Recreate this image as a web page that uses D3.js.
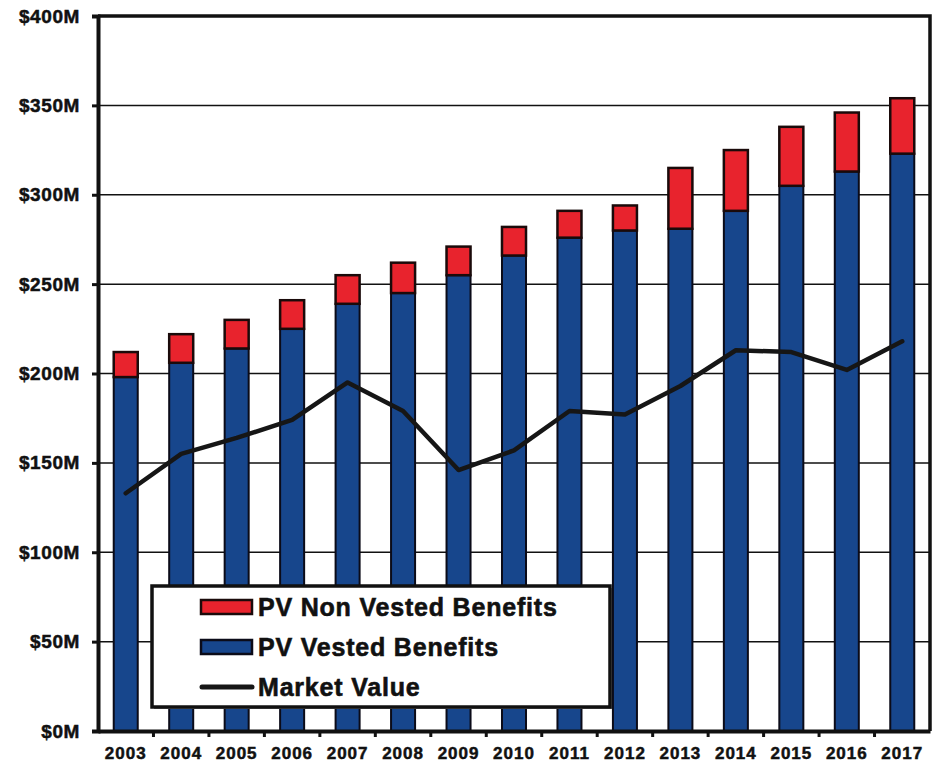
<!DOCTYPE html>
<html lang="en">
<head>
    <meta charset="UTF-8">
    <title>Pension Benefits vs Market Value</title>
    <script src="https://cdn.jsdelivr.net/npm/d3@7"></script>
    <style>
        body {
            margin: 0;
            background: #fff;
            font-family: Arial, 'Liberation Sans', sans-serif;
        }
        .tick-label {
            font-weight: bold;
            fill: #111;
            stroke: #111;
            stroke-width: 0.5px;
        }
        .legend-label {
            font-weight: bold;
            font-size: 25px;
            letter-spacing: 0.8px;
            fill: #111;
            stroke: #111;
            stroke-width: 0.6px;
        }
    </style>
</head>
<body>
    <div id="chart"></div>
    <script>
        // values in $M
        const years = ['2003', '2004', '2005', '2006', '2007', '2008', '2009', '2010',
                       '2011', '2012', '2013', '2014', '2015', '2016', '2017'];
        const vested = [198, 206, 214, 225, 239, 245, 255, 266, 276, 280, 281, 291, 305, 313, 323];
        const nonVested = [14, 16, 16, 16, 16, 17, 16, 16, 15, 14, 34, 34, 33, 33, 31];
        const marketValue = [133, 155, 164, 174, 195, 179, 146, 157, 179, 177, 193, 213, 212, 202, 218];
        const yTicks = [0, 50, 100, 150, 200, 250, 300, 350, 400];
        const legendItems = ['PV Non Vested Benefits', 'PV Vested Benefits', 'Market Value'];

        const width = 932, height = 763;
        const plotLeft = 98, plotRight = 930, plotTop = 16, plotBottom = 731;

        const blue = '#17468c';
        const red = '#e8232d';

        const svg = d3.select('#chart').append('svg')
            .attr('width', width)
            .attr('height', height);

        const x = d3.scaleBand()
            .domain(years)
            .range([plotLeft, plotRight])
            .paddingInner(0.567)
            .paddingOuter(0.2835);

        const y = d3.scaleLinear()
            .domain([0, 400])
            .range([plotBottom, plotTop]);

        // gridlines
        svg.append('g')
            .selectAll('line')
            .data(yTicks.filter(d => d > 0 && d < 400))
            .join('line')
            .attr('x1', plotLeft)
            .attr('x2', plotRight)
            .attr('y1', d => y(d))
            .attr('y2', d => y(d))
            .attr('stroke', '#111')
            .attr('stroke-width', 1.5);

        // stacked bars
        const bars = svg.append('g');
        bars.selectAll('.vested')
            .data(years)
            .join('rect')
            .attr('class', 'vested')
            .attr('x', d => x(d))
            .attr('width', x.bandwidth())
            .attr('y', (d, i) => y(vested[i]))
            .attr('height', (d, i) => y(0) - y(vested[i]))
            .attr('fill', blue)
            .attr('stroke', '#0b0b18')
            .attr('stroke-width', 2);

        bars.selectAll('.nonvested')
            .data(years)
            .join('rect')
            .attr('class', 'nonvested')
            .attr('x', d => x(d))
            .attr('width', x.bandwidth())
            .attr('y', (d, i) => y(vested[i] + nonVested[i]))
            .attr('height', (d, i) => y(vested[i]) - y(vested[i] + nonVested[i]))
            .attr('fill', red)
            .attr('stroke', '#1a0a0a')
            .attr('stroke-width', 2.5);

        // market value line
        const line = d3.line()
            .x((d, i) => x(years[i]) + x.bandwidth() / 2)
            .y(d => y(d));

        svg.append('path')
            .datum(marketValue)
            .attr('d', line)
            .attr('fill', 'none')
            .attr('stroke', '#161616')
            .attr('stroke-width', 4.5)
            .attr('stroke-linejoin', 'round')
            .attr('stroke-linecap', 'round');

        // frame: top and right borders
        svg.append('path')
            .attr('d', `M${plotLeft},${plotTop}H${plotRight}V${plotBottom}`)
            .attr('fill', 'none')
            .attr('stroke', '#111')
            .attr('stroke-width', 3.5);

        // y axis
        const yAxis = svg.append('g')
            .attr('transform', `translate(${plotLeft},0)`)
            .call(d3.axisLeft(y).tickValues(yTicks).tickSize(6).tickPadding(12)
                .tickFormat(d => '$' + d + 'M'));
        yAxis.select('.domain').attr('stroke', '#111').attr('stroke-width', 4);
        yAxis.selectAll('.tick line').attr('stroke', '#111').attr('stroke-width', 3);
        yAxis.selectAll('.tick text')
            .attr('class', 'tick-label')
            .attr('font-size', 19)
            .attr('letter-spacing', 0.6)
            .attr('font-family', "Arial, 'Liberation Sans', sans-serif");

        // x axis, ticks at band edges
        const xAxis = svg.append('g')
            .attr('transform', `translate(0,${plotBottom})`)
            .call(d3.axisBottom(x).tickSize(0).tickPadding(16));
        xAxis.select('.domain').attr('stroke', '#111').attr('stroke-width', 4);
        xAxis.selectAll('.tick text')
            .attr('class', 'tick-label')
            .attr('font-size', 17)
            .attr('letter-spacing', 1)
            .attr('font-family', "Arial, 'Liberation Sans', sans-serif");

        svg.append('g')
            .selectAll('line')
            .data(years.slice(1))
            .join('line')
            .attr('x1', d => x(d) - x.step() * x.paddingInner() / 2)
            .attr('x2', d => x(d) - x.step() * x.paddingInner() / 2)
            .attr('y1', plotBottom)
            .attr('y2', plotBottom + 6)
            .attr('stroke', '#111')
            .attr('stroke-width', 3);

        // legend
        const legend = svg.append('g').attr('transform', 'translate(152,586)');
        legend.append('rect')
            .attr('x', 2).attr('y', 2)
            .attr('width', 458).attr('height', 121)
            .attr('fill', '#888');
        legend.append('rect')
            .attr('width', 458)
            .attr('height', 121)
            .attr('fill', '#fff')
            .attr('stroke', '#111')
            .attr('stroke-width', 3.5);

        const rowY = d3.scalePoint().domain(legendItems).range([21, 101]);

        legend.append('rect')
            .attr('x', 49).attr('y', rowY(legendItems[0]) - 7)
            .attr('width', 51).attr('height', 14)
            .attr('fill', red).attr('stroke', '#1a0a0a').attr('stroke-width', 2.5);
        legend.append('rect')
            .attr('x', 49).attr('y', rowY(legendItems[1]) - 7)
            .attr('width', 51).attr('height', 14)
            .attr('fill', blue).attr('stroke', '#0b0b18').attr('stroke-width', 2.5);
        legend.append('line')
            .attr('x1', 50).attr('x2', 100)
            .attr('y1', rowY(legendItems[2])).attr('y2', rowY(legendItems[2]))
            .attr('stroke', '#161616').attr('stroke-width', 5).attr('stroke-linecap', 'round');

        legend.selectAll('.legend-label')
            .data(legendItems)
            .join('text')
            .attr('class', 'legend-label')
            .attr('x', 106)
            .attr('y', d => rowY(d))
            .attr('dy', '0.36em')
            .text(d => d);
    </script>
</body>
</html>
